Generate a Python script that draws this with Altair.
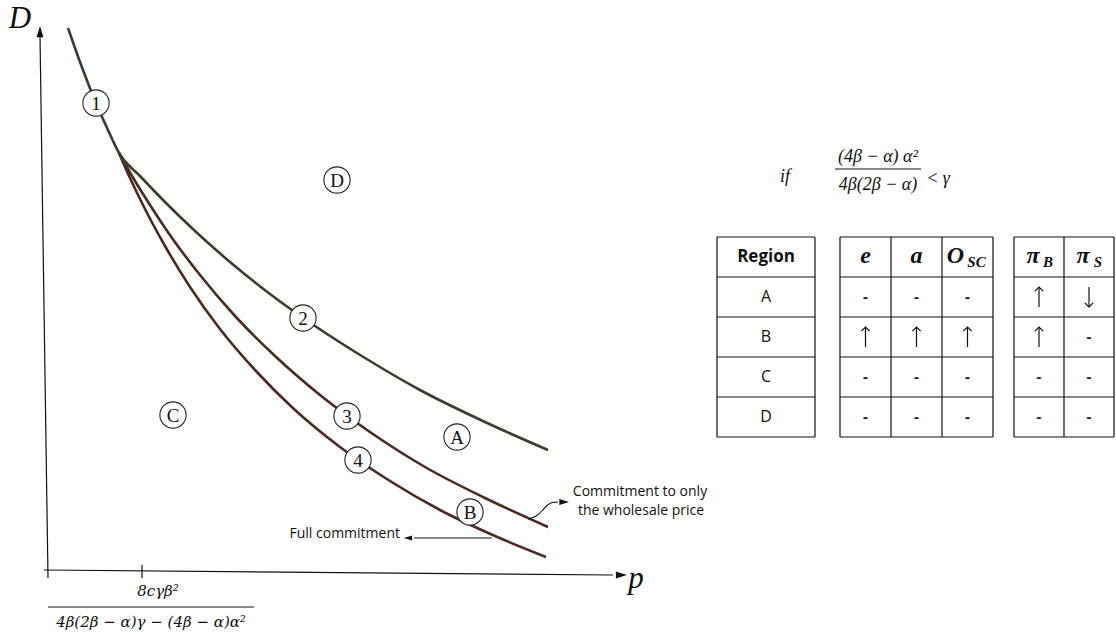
import altair as alt
import pandas as pd

W, H = 1116, 636

# ---------------------------------------------------------------------------
# Threshold curves in sheet units (x grows to the right, y grows downward)
# ---------------------------------------------------------------------------
# curve through markers 1 and 2 (common branch above the kink, then the upper branch)
curve_12_x = [68, 80, 96, 108, 119, 140, 165, 195, 230, 270, 315, 365, 420, 485, 548]
curve_12_y = [28, 62, 103, 130, 153, 176, 202, 231, 262, 294, 326, 358, 390, 422, 450]
# curve through marker 3: commitment to only the wholesale price
curve_3_x = [119, 132, 150, 172, 200, 235, 275, 320, 370, 425, 485, 548]
curve_3_y = [153, 176, 205, 238, 275, 316, 356, 395, 432, 467, 498, 527]
# curve through marker 4: full commitment
curve_4_x = [119, 130, 145, 165, 190, 220, 255, 295, 340, 390, 440, 495, 546]
curve_4_y = [153, 178, 209, 246, 287, 329, 370, 410, 447, 481, 510, 536, 557]

# circled labels on the curves and inside the regions
marker_text = ["1", "2", "3", "4", "A", "B", "C", "D"]
marker_x = [96, 303, 347, 358, 457, 470, 173, 337]
marker_y = [103, 318, 416, 460, 437, 512, 415, 180]

# squiggly pointer from curve 3 to its caption
pointer_x = [528, 536, 542, 547, 552, 558]
pointer_y = [519, 517, 511, 505, 502, 502]

# ---------------------------------------------------------------------------
# Comparative-statics table
# ---------------------------------------------------------------------------
row_labels = ["A", "B", "C", "D"]
effort_heads = ["e", "a", "O"]
effort_subs = ["", "", "SC"]
profit_heads = ["π", "π"]
profit_subs = ["B", "S"]
effort_effects = [["-", "-", "-"], ["↑", "↑", "↑"], ["-", "-", "-"], ["-", "-", "-"]]
profit_effects = [["↑", "↓"], ["↑", "-"], ["-", "-"], ["-", "-"]]

# table geometry
TOP, ROW_H = 237, 40
region_edges = [717, 815]
effort_edges = [840, 891, 942, 993]
profit_edges = [1014, 1064, 1114]

GREEN = "#35412a"
BROWN = "#4d2a1f"
INK = "#111111"

xs = alt.Scale(domain=[0, W], nice=False, zero=False)
ys = alt.Scale(domain=[0, H], nice=False, zero=False, reverse=True)


def X(f="x"):
    return alt.X(f"{f}:Q", scale=xs, axis=None)


def Y(f="y"):
    return alt.Y(f"{f}:Q", scale=ys, axis=None)


def mid(edges, i):
    return (edges[i] + edges[i + 1]) / 2


def row_y(r):
    return TOP + (r + 0.5) * ROW_H


# --- curves ---------------------------------------------------------------
rows = []
for name, cx, cy in [("c3", curve_3_x, curve_3_y), ("c4", curve_4_x, curve_4_y),
                     ("c12", curve_12_x, curve_12_y)]:
    for i, (a, b) in enumerate(zip(cx, cy)):
        rows.append({"curve": name, "order": i, "x": a, "y": b})
curves_df = pd.DataFrame(rows)

curves = alt.Chart(curves_df).mark_line(strokeWidth=2.6, interpolate="monotone").encode(
    x=X(), y=Y(), detail="curve:N", order="order:Q",
    color=alt.Color("curve:N", scale=alt.Scale(domain=["c12", "c3", "c4"],
                                               range=[GREEN, BROWN, BROWN]), legend=None),
)

# --- table cells: arrows become a shaft plus an open head, dashes stay text ---
arrow_shafts, arrow_tips, dash_cells = [], [], []
for r in range(len(row_labels)):
    for edges, vals in ((effort_edges, effort_effects[r]), (profit_edges, profit_effects[r])):
        for c, v in enumerate(vals):
            cx, cy = mid(edges, c), row_y(r + 1)
            if v == "-":
                dash_cells.append((cx, cy, v))
            else:
                up = v == "↑"
                tip = cy - 10 if up else cy + 10
                tail = cy + 10 if up else cy - 10
                arrow_shafts.append((cx, tail, cx, tip))
                arrow_tips.append((cx, tip, 0 if up else 180))

# --- straight segments: axes, tick, fraction bars, table grid -------------
segs = [
    (48, 578, 40, 36),      # vertical axis
    (44, 570, 613, 575),    # horizontal axis
    (142, 565, 142, 578),   # tick mark
    (48, 607, 254, 607),    # fraction bar under the tick
    (835, 169, 921, 169),   # fraction bar of the condition
    (492, 538, 414, 538),   # full-commitment pointer
]
n_rows = len(row_labels) + 1
for edges in (region_edges, effort_edges, profit_edges):
    for k in range(n_rows + 1):
        segs.append((edges[0], TOP + k * ROW_H, edges[-1], TOP + k * ROW_H))
    for e in edges:
        segs.append((e, TOP, e, TOP + n_rows * ROW_H))
seg_df = pd.DataFrame(segs, columns=["x", "y", "x2", "y2"])

rules = alt.Chart(seg_df).mark_rule(color=INK, strokeWidth=1.2).encode(
    x=X(), y=Y(), x2="x2:Q", y2="y2:Q"
)
shafts = alt.Chart(pd.DataFrame(arrow_shafts, columns=["x", "y", "x2", "y2"])).mark_rule(
    color=INK, strokeWidth=1.2
).encode(x=X(), y=Y(), x2="x2:Q", y2="y2:Q")
tips = alt.Chart(pd.DataFrame(arrow_tips, columns=["x", "y", "angle"])).mark_point(
    shape="M-1,1L0,0L1,1", filled=False, color=INK, strokeWidth=1.2, size=70, opacity=1
).encode(x=X(), y=Y(), angle=alt.Angle("angle:Q", scale=None))

pointer = alt.Chart(pd.DataFrame({"x": pointer_x, "y": pointer_y, "o": range(len(pointer_x))})).mark_line(
    color=INK, strokeWidth=1.1, interpolate="basis"
).encode(x=X(), y=Y(), order="o:Q")

# arrowheads (path points up; angle turns it clockwise)
ARROW = "M0,-1L0.5,0.6L-0.5,0.6Z"
heads_df = pd.DataFrame({
    "x": [40, 620, 563, 409],
    "y": [33, 575, 502, 538],
    "angle": [0, 90, 90, 270],
    "s": [190, 190, 150, 110],
})
heads = alt.Chart(heads_df).mark_point(shape=ARROW, filled=True, color=INK, opacity=1).encode(
    x=X(), y=Y(), angle=alt.Angle("angle:Q", scale=None), size=alt.Size("s:Q", scale=None)
)

# --- circled markers ------------------------------------------------------
mk_df = pd.DataFrame({"t": marker_text, "x": marker_x, "y": marker_y})
circles = alt.Chart(mk_df).mark_point(
    shape="circle", filled=True, fill="white", stroke="#222222", strokeWidth=1.1,
    size=690, opacity=1,
).encode(x=X(), y=Y())
circle_txt = alt.Chart(mk_df).mark_text(
    font="Liberation Serif", fontSize=19, color=INK, baseline="middle", dy=1
).encode(x=X(), y=Y(), text="t:N")


def text_layer(items, **style):
    df = pd.DataFrame(items, columns=["x", "y", "t"])
    base = dict(color=INK, baseline="middle", align="center")
    base.update(style)
    return alt.Chart(df).mark_text(**base).encode(x=X(), y=Y(), text="t:N")


# --- axis names and the tick value ----------------------------------------
axis_names = text_layer([(20, 28, "D"), (636, 588, "p")], baseline="alphabetic",
                        font="Liberation Serif", fontStyle="italic", fontSize=31)
tick_value = text_layer([(158, 591, "8cγβ²"), (151, 622, "4β(2β − α)γ − (4β − α)α²")],
                        font="DejaVu Serif", fontStyle="italic", fontSize=15)

# --- condition in the upper right -----------------------------------------
condition = text_layer([(785, 177, "if"), (878, 157, "(4β − α) α²"), (878, 185, "4β(2β − α)"),
                        (938, 179, "< γ")],
                       font="Liberation Serif", fontStyle="italic", fontSize=18)

# --- captions ----------------------------------------------------------------
captions = text_layer([(640, 492, "Commitment to only"), (641, 511, "the wholesale price")],
                      font="Open Sans", fontSize=14)
full_cap = text_layer([(400, 534, "Full commitment")], font="Open Sans", fontSize=14, align="right")

# --- table text --------------------------------------------------------------
region_head = text_layer([(mid(region_edges, 0), row_y(0), "Region")],
                         font="Open Sans", fontWeight="bold", fontSize=17)
region_cells = text_layer([(mid(region_edges, 0), row_y(i + 1), lab) for i, lab in enumerate(row_labels)],
                          font="Open Sans", fontSize=16)

heads_main, heads_sub = [], []
for i, (h, s) in enumerate(zip(effort_heads, effort_subs)):
    cx = mid(effort_edges, i)
    if s:
        heads_main.append((cx - 12, row_y(0) - 1, h))
        heads_sub.append((cx + 9, row_y(0) + 5, s))
    else:
        heads_main.append((cx, row_y(0) - 1, h))
for i, (h, s) in enumerate(zip(profit_heads, profit_subs)):
    cx = mid(profit_edges, i)
    heads_main.append((cx - 6, row_y(0) - 1, h))
    heads_sub.append((cx + 9, row_y(0) + 5, s))
head_main_layer = text_layer(heads_main, font="Liberation Serif", fontStyle="italic",
                             fontWeight="bold", fontSize=24)
head_sub_layer = text_layer(heads_sub, font="Liberation Serif", fontStyle="italic",
                            fontWeight="bold", fontSize=15)

dash_layer = text_layer(dash_cells, font="Open Sans", fontWeight="bold", fontSize=15)

chart = alt.layer(
    rules, curves, pointer, heads, circles, circle_txt, axis_names, tick_value, condition,
    captions, full_cap, region_head, region_cells, head_main_layer, head_sub_layer,
    shafts, tips, dash_layer,
).properties(
    width=W, height=H, padding=0, autosize=alt.AutoSizeParams(type="none"), background="white"
).configure_view(stroke=None)

chart.save("out.html", embed_options={"renderer": "svg", "actions": False})
